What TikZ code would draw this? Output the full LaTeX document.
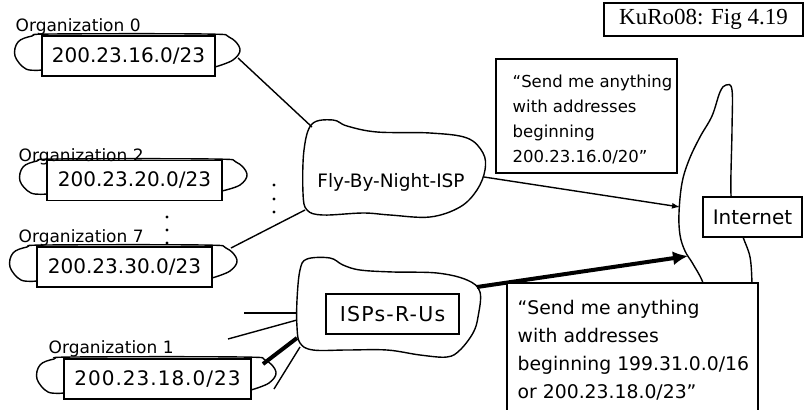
\documentclass[tikz,border=0pt]{standalone}
\usepackage{fontspec}
\setmainfont{DejaVu Sans}
\newfontfamily\timesf{Liberation Serif}
\usetikzlibrary{arrows.meta}
\newcommand\orgblob[4]{%
  \draw plot[smooth, tension=0.6] coordinates {({#1},{#4-6}) ({#1-16},{#4-7}) ({#1-27},{#2+20}) ({#1-24},{#2+6}) ({#1-10},{#2}) ({#1+10},{#2-2}) ({#3-10},{#2-2}) ({#3+14},{#2+1}) ({#3+25},{#2+13}) ({#3+18},{#2+24}) ({#3},{#4-9})};}
\begin{document}
\begin{tikzpicture}[x=1pt,y=-1pt,line width=1.4pt,
  box/.style={draw,fill=white,inner sep=0pt,line width=1.1pt},
  orgbox/.style={box,minimum width=#1,minimum height=40pt,font=\fontsize{20}{24}\selectfont},
  orglabel/.style={anchor=base west,inner sep=0pt,font=\fontsize{17}{20}\selectfont},
  callout/.style={anchor=base west,inner sep=0pt},
  thin arrow/.style={-{Latex[length=8pt,width=6pt]}},
  thick arrow/.style={line width=4pt,-{Latex[length=15pt,width=14pt]}}]
\useasboundingbox (0,0) rectangle (804,410);
\clip (0,0) rectangle (804,410);

% ---- organization blobs and boxes
\orgblob{42}{36}{215}{76}
\node[orgbox=173pt] (b0) at (128.5,56) {200.23.16.0/23};
\node[orglabel] (l0) at (15,31) {Organization 0};

\orgblob{47}{161}{222}{200}
\node[orgbox=175pt] (b2) at (134.5,180.5) {200.23.20.0/23};
\node[orglabel] (l2) at (18,161) {Organization 2};

\orgblob{37}{247}{212}{287}
\node[orgbox=175pt] (b7) at (124.5,267) {200.23.30.0/23};
\node[orglabel] (l7) at (18,242) {Organization 7};

\orgblob{64}{359}{251}{399}
\node[orgbox=187pt] (b1) at (157.5,379) {\addfontfeature{LetterSpace=5}200.23.18.0/23};
\node[orglabel] (l1) at (48,353) {Organization 1};

% ---- dots
\fill (274,185) circle (1.6) (274,199) circle (1.6) (274,212) circle (1.6);
\fill (167,217) circle (1.6) (167,230) circle (1.6) (167,243) circle (1.6);

% ---- Fly-By-Night-ISP blob
\draw plot[smooth cycle, tension=0.6] coordinates {(312,124) (333,120) (347,126) (377,132) (430,133) (467,138) (483,153) (485,170) (477,190) (460,207) (430,217) (390,215) (363,213) (323,215) (307,210) (303,193) (304,150)};
\node[inner sep=0pt,font=\fontsize{18.5}{22}\selectfont] (fly) at (391,182) {Fly-By-Night-ISP};

% ---- ISPs-R-Us blob
\draw plot[smooth cycle, tension=0.6] coordinates {(307,259) (330,258) (343,265) (360,270) (393,272) (437,273) (467,280) (480,292) (478,317) (473,333) (460,350) (447,357) (420,355) (387,350) (347,350) (313,350) (300,343) (297,327) (297,300) (300,270)};
\node[box,minimum width=133pt,minimum height=40pt,font=\fontsize{20.5}{24}\selectfont] (isp) at (392.5,314) {\addfontfeature{LetterSpace=6}ISPs-R-Us};

% ---- Internet blob
\draw plot[smooth, tension=0.6] coordinates {(704,300) (703,283) (693,264) (685,251) (680,235) (679,213) (682,183) (689,160) (700,137) (712,116) (720,92) (726,85) (732,90) (732,130) (731,195) (736,216) (743,237) (750,257) (752,283) (752,300)};
\node[box,minimum width=99pt,minimum height=40pt,font=\fontsize{20}{24}\selectfont] (inet) at (752.5,217) {Internet};

% ---- connection points
\coordinate (o0r) at (238,58);
\coordinate (o7r) at (231,248);
\coordinate (o1r) at (263,364);
\coordinate (flyA) at (312,127);
\coordinate (flyB) at (305,210);
\coordinate (flyR) at (484,177);
\coordinate (ispR) at (477,287);
\coordinate (ispA) at (297,313);
\coordinate (ispB) at (297,320);
\coordinate (ispC) at (297,338);
\coordinate (ispD) at (300,347);
\coordinate (freeA) at (244,313);
\coordinate (freeB) at (228,339);
\coordinate (freeD) at (274,389);
\coordinate (inetA) at (680,207);
\coordinate (inetB) at (688,256);

\draw (o0r) -- (flyA);
\draw (o7r) -- (flyB);
\draw (freeA) -- (ispA);
\draw (freeB) -- (ispB);
\draw[line width=4pt] (o1r) -- (ispC);
\draw (freeD) -- (ispD);
\draw[thin arrow] (flyR) -- (inetA);
\draw[thick arrow] (ispR) -- (inetB);

% ---- callouts
\node[box,minimum width=181pt,minimum height=114pt] (c1) at (586.5,116) {};
\node[callout] (t1) at (512,87) {\vtop{\fontsize{16.5}{25.3}\selectfont
  \hbox{“Send me anything}\hbox{with addresses}\hbox{beginning}\hbox{200.23.16.0/20”}}};

\node[box,minimum width=251pt,minimum height=160pt] (c2) at (632.5,363) {};
\node[callout] (t2) at (517,314) {\vtop{\fontsize{18.8}{28}\selectfont
  \hbox{“Send me anything}\hbox{with addresses}\hbox{beginning 199.31.0.0/16}\hbox{or 200.23.18.0/23”}}};

\node[box,minimum width=199pt,minimum height=33pt,font=\timesf\fontsize{23}{27}\selectfont] (ku) at (703.5,19.5) {KuRo08: Fig 4.19};
\end{tikzpicture}
\end{document}
